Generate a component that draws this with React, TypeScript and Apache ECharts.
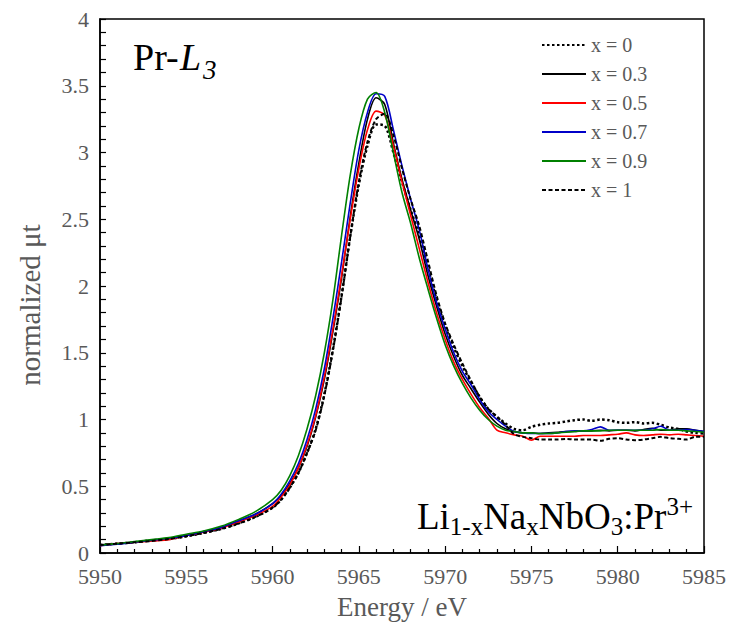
import React, { useEffect, useRef } from "react";
import * as echarts from "echarts";

const energy = [
  5950, 5951, 5952, 5953, 5954, 5955, 5956, 5957, 5958, 5959,
  5960, 5960.5, 5961, 5961.5, 5962, 5962.5, 5963, 5963.5, 5964, 5964.5,
  5965, 5965.5, 5966, 5966.5, 5967, 5967.5, 5968, 5968.5, 5969, 5969.5,
  5970, 5970.5, 5971, 5971.5, 5972, 5972.5, 5973, 5973.5, 5974,
  5974.5, 5975, 5975.5, 5976, 5976.5, 5977, 5977.5, 5978, 5978.5, 5979, 5979.5,
  5980, 5980.5, 5981, 5981.5, 5982, 5982.5, 5983, 5983.5, 5984, 5984.5, 5985,
];

const seriesNames = ["x = 0", "x = 0.3", "x = 0.5", "x = 0.7", "x = 0.9", "x = 1"];

const x0 = [
  0.06, 0.07, 0.08, 0.095, 0.105, 0.125, 0.15, 0.18, 0.22, 0.27,
  0.34, 0.40, 0.49, 0.60, 0.75, 0.93, 1.19, 1.53, 1.93, 2.37,
  2.76, 3.05, 3.21, 3.20, 3.00, 2.78, 2.57, 2.38, 2.14, 1.90,
  1.70, 1.54, 1.40, 1.28, 1.17, 1.08, 1.02, 0.97, 0.93,
  0.92, 0.945, 0.96, 0.97, 0.975, 0.985, 0.995, 1.00, 0.99, 1.00, 0.995,
  0.98, 0.975, 0.98, 0.97, 0.975, 0.96, 0.94, 0.93, 0.91, 0.90, 0.895,
];

const x03 = [
  0.06, 0.07, 0.08, 0.095, 0.11, 0.13, 0.16, 0.19, 0.24, 0.29,
  0.37, 0.43, 0.52, 0.64, 0.80, 1.02, 1.30, 1.66, 2.06, 2.52,
  2.92, 3.25, 3.41, 3.36, 3.07, 2.80, 2.57, 2.35, 2.08, 1.85,
  1.64, 1.47, 1.33, 1.23, 1.13, 1.04, 0.97, 0.93, 0.91,
  0.90, 0.90, 0.895, 0.90, 0.905, 0.91, 0.91, 0.915, 0.915, 0.92, 0.915,
  0.92, 0.92, 0.915, 0.925, 0.935, 0.92, 0.92, 0.93, 0.93, 0.92, 0.91,
];

const x05 = [
  0.055, 0.07, 0.08, 0.09, 0.10, 0.13, 0.155, 0.185, 0.23, 0.28,
  0.35, 0.42, 0.51, 0.64, 0.81, 1.03, 1.32, 1.68, 2.08, 2.50,
  2.88, 3.17, 3.31, 3.28, 3.05, 2.78, 2.53, 2.28, 2.03, 1.80,
  1.60, 1.43, 1.30, 1.19, 1.09, 1.01, 0.92, 0.90, 0.885,
  0.875, 0.845, 0.875, 0.875, 0.875, 0.875, 0.875, 0.88, 0.88, 0.88, 0.885,
  0.89, 0.90, 0.885, 0.88, 0.885, 0.89, 0.885, 0.89, 0.885, 0.88, 0.875,
];

const x07 = [
  0.055, 0.065, 0.08, 0.095, 0.11, 0.13, 0.16, 0.19, 0.24, 0.29,
  0.37, 0.44, 0.54, 0.67, 0.85, 1.08, 1.38, 1.76, 2.18, 2.62,
  3.02, 3.30, 3.44, 3.42, 3.17, 2.90, 2.65, 2.42, 2.13, 1.88,
  1.68, 1.50, 1.36, 1.26, 1.15, 1.06, 1.00, 0.95, 0.91,
  0.90, 0.895, 0.895, 0.895, 0.90, 0.91, 0.915, 0.915, 0.925, 0.945, 0.92,
  0.92, 0.92, 0.92, 0.92, 0.93, 0.95, 0.92, 0.92, 0.925, 0.92, 0.91,
];

const x09 = [
  0.06, 0.07, 0.085, 0.10, 0.115, 0.14, 0.165, 0.20, 0.25, 0.31,
  0.40, 0.47, 0.58, 0.73, 0.93, 1.18, 1.50, 1.90, 2.38, 2.83,
  3.18, 3.40, 3.45, 3.30, 3.00, 2.70, 2.47, 2.21, 1.98, 1.76,
  1.56, 1.40, 1.27, 1.16, 1.07, 1.00, 0.95, 0.92, 0.91,
  0.90, 0.90, 0.895, 0.895, 0.90, 0.905, 0.91, 0.915, 0.915, 0.915, 0.92,
  0.92, 0.92, 0.92, 0.92, 0.92, 0.925, 0.92, 0.92, 0.915, 0.91, 0.905,
];

const x1 = [
  0.06, 0.07, 0.08, 0.09, 0.105, 0.125, 0.15, 0.18, 0.22, 0.27,
  0.34, 0.40, 0.49, 0.60, 0.75, 0.92, 1.18, 1.52, 1.92, 2.37,
  2.78, 3.08, 3.25, 3.29, 3.13, 2.88, 2.65, 2.45, 2.19, 1.93,
  1.72, 1.56, 1.42, 1.29, 1.17, 1.08, 1.02, 0.96, 0.89,
  0.87, 0.86, 0.85, 0.85, 0.85, 0.855, 0.85, 0.85, 0.85, 0.84, 0.855,
  0.86, 0.85, 0.845, 0.85, 0.86, 0.87, 0.86, 0.855, 0.85, 0.87, 0.87,
];

const yTicks = [0, 0.5, 1, 1.5, 2, 2.5, 3, 3.5, 4];
const xTicks = [5950, 5955, 5960, 5965, 5970, 5975, 5980, 5985];

const values = [x0, x03, x05, x07, x09, x1];
const colors = ["#000000", "#000000", "#ff0000", "#0000c8", "#008000", "#000000"];
const lineTypes: any[] = [[2.5, 2.5], "solid", "solid", "solid", "solid", [4, 2.5]];
const lineWidths = [2.5, 1.6, 1.6, 1.6, 1.6, 2];

const FONT = "'Liberation Serif', 'Times New Roman', serif";
const GRAY = "#595959";

export default function App() {
  const ref = useRef<HTMLDivElement>(null);
  useEffect(() => {
    if (!ref.current) return;
    const chart = echarts.init(ref.current, undefined, { renderer: "svg" });
    const series = values.map((vals, i) => ({
      name: seriesNames[i],
      type: "line",
      data: energy.map((e, j) => [e, vals[j]]),
      showSymbol: false,
      symbol: "none",
      smooth: 0.3,
      lineStyle: { color: colors[i], width: lineWidths[i], type: lineTypes[i] },
      itemStyle: { color: colors[i] },
      z: 2 + i,
    }));
    chart.setOption({
      animation: false,
      backgroundColor: "#ffffff",
      grid: {
        left: 100,
        right: 24,
        top: 19,
        bottom: 78,
        show: true,
        borderColor: "#000",
        borderWidth: 1.5,
      },
      legend: {
        orient: "vertical",
        left: 536,
        top: 30,
        itemWidth: 44,
        itemHeight: 19,
        itemGap: 9,
        data: seriesNames,
        textStyle: { fontFamily: FONT, fontSize: 20, color: GRAY },
        itemStyle: { opacity: 0, borderWidth: 0 },
      },
      xAxis: {
        type: "value",
        min: xTicks[0],
        max: xTicks[xTicks.length - 1],
        interval: 5,
        name: "Energy / eV",
        nameLocation: "middle",
        nameGap: 40,
        nameTextStyle: { fontFamily: FONT, fontSize: 27, color: GRAY },
        axisLine: { lineStyle: { color: "#000", width: 1.5 } },
        axisTick: { inside: true, length: 7, lineStyle: { color: "#000", width: 1.2 } },
        minorTick: { show: true, splitNumber: 5, length: 4, lineStyle: { color: "#000", width: 1.2 } },
        splitLine: { show: false },
        axisLabel: {
          fontFamily: FONT,
          fontSize: 22,
          color: GRAY,
          margin: 12,
          formatter: (v: number) => String(v),
        },
      },
      yAxis: {
        type: "value",
        min: yTicks[0],
        max: yTicks[yTicks.length - 1],
        interval: 0.5,
        axisLine: { show: true, lineStyle: { color: "#000", width: 1.5 } },
        axisTick: { show: true, inside: true, length: 6, lineStyle: { color: "#000", width: 1.2 } },
        minorTick: { show: true, splitNumber: 5, length: 6, lineStyle: { color: "#000", width: 1.2 } },
        splitLine: { show: false },
        axisLabel: {
          fontFamily: FONT,
          fontSize: 22,
          color: GRAY,
          margin: 11,
          formatter: (v: number) => String(v),
        },
      },
      graphic: [
        {
          type: "text",
          x: 30,
          y: 305,
          rotation: Math.PI / 2,
          style: {
            text: "normalized μt",
            font: `29px ${FONT}`,
            fill: GRAY,
            align: "center",
            verticalAlign: "middle",
          },
        },
        {
          type: "text",
          x: 133,
          y: 57,
          style: { text: "Pr-", font: `38px ${FONT}`, fill: "#000", align: "left", verticalAlign: "middle" },
        },
        {
          type: "text",
          x: 180,
          y: 57,
          style: { text: "L", font: `italic 38px ${FONT}`, fill: "#000", align: "left", verticalAlign: "middle" },
        },
        {
          type: "text",
          x: 203,
          y: 70,
          style: { text: "3", font: `italic 27px ${FONT}`, fill: "#000", align: "left", verticalAlign: "middle" },
        },
        {
          type: "text",
          right: 36,
          top: 494,
          style: {
            text: "{a|Li}{s|1-x}{a|Na}{s|x}{a|NbO}{s|3}{a|:Pr}{p|3+}",
            fill: "#000",
            rich: {
              a: { fontFamily: FONT, fontSize: 37, lineHeight: 45, fill: "#000" },
              s: { fontFamily: FONT, fontSize: 25, lineHeight: 25, verticalAlign: "bottom", fill: "#000" },
              p: { fontFamily: FONT, fontSize: 25, lineHeight: 25, verticalAlign: "top", fill: "#000" },
            },
          },
        },
      ],
      series,
    });
    return () => chart.dispose();
  }, []);
  return (
    <div
      ref={ref}
      style={{ position: "fixed", left: 0, top: 0, width: 729, height: 631, background: "#fff" }}
    />
  );
}
